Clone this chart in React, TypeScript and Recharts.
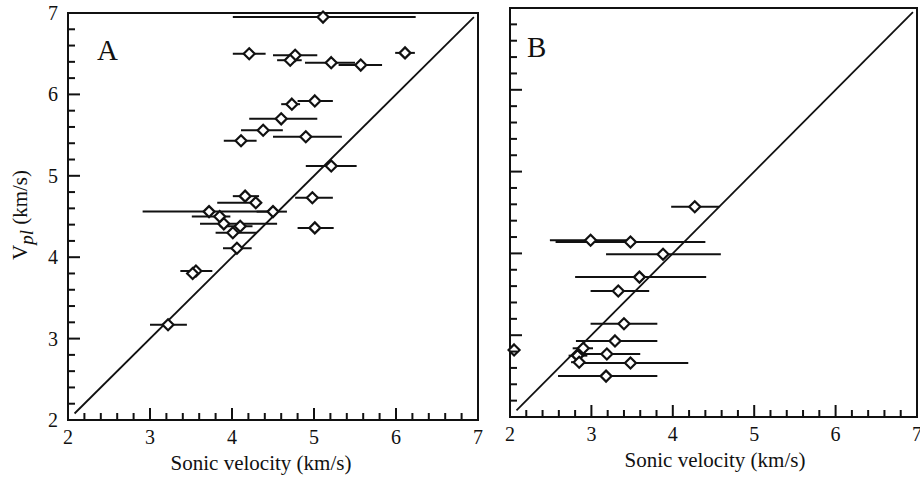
import { ScatterChart, Scatter, XAxis, YAxis, ErrorBar, ReferenceArea, ReferenceLine } from 'recharts'

const FONT = "'Liberation Serif', 'Times New Roman', serif"
const INK = '#111'

// shared axis ticks (major every 1, minor every 0.2)
const TICKS = [
  2, 2.2, 2.4, 2.6, 2.8, 3, 3.2, 3.4, 3.6, 3.8, 4, 4.2, 4.4, 4.6, 4.8,
  5, 5.2, 5.4, 5.6, 5.8, 6, 6.2, 6.4, 6.6, 6.8, 7,
]
const DOMAIN = [2, 7]
const ONE_TO_ONE = [2.08, 6.95]

// panel A: sonic velocity, Vpl, error bar low / high (km/s)
const A_SONIC = [5.11, 4.21, 4.77, 4.71, 5.21, 5.57, 6.11, 5.01, 4.73, 4.6, 4.38, 4.9, 4.11, 5.21, 4.16, 4.29, 4.98, 4.5, 3.72, 3.85, 3.9, 4.1, 4.01, 4.06, 5.01, 3.56, 3.52, 3.22]
const A_VPL = [6.95, 6.5, 6.48, 6.42, 6.39, 6.36, 6.51, 5.92, 5.88, 5.7, 5.56, 5.48, 5.43, 5.12, 4.75, 4.67, 4.73, 4.56, 4.56, 4.5, 4.41, 4.38, 4.3, 4.11, 4.36, 3.83, 3.8, 3.17]
const A_LOW = [4.01, 4.01, 4.5, 4.55, 4.89, 5.3, 5.99, 4.8, 4.6, 4.21, 4.11, 4.5, 3.9, 4.9, 4.01, 3.82, 4.77, 4.3, 2.91, 3.51, 3.61, 3.85, 3.8, 3.89, 4.8, 3.37, 3.45, 3.0]
const A_HIGH = [6.24, 4.41, 5.04, 4.85, 5.5, 5.83, 6.23, 5.23, 4.83, 5.04, 4.62, 5.34, 4.3, 5.52, 4.33, 4.34, 5.23, 4.67, 4.55, 3.98, 4.55, 4.25, 4.3, 4.24, 5.24, 3.76, 3.6, 3.45]

// panel B
const B_SONIC = [4.27, 2.99, 3.48, 3.88, 3.59, 3.33, 3.4, 3.29, 2.9, 2.05, 3.19, 2.83, 2.85, 3.48, 3.18]
const B_VPL = [4.57, 4.16, 4.14, 3.99, 3.71, 3.54, 3.14, 2.93, 2.84, 2.82, 2.77, 2.75, 2.67, 2.66, 2.5]
const B_LOW = [3.98, 2.49, 2.56, 3.18, 2.8, 2.99, 2.99, 2.81, 2.77, 2.05, 2.82, 2.72, 2.75, 2.82, 2.59]
const B_HIGH = [4.57, 3.45, 4.4, 4.59, 4.41, 3.71, 3.81, 3.81, 3.02, 2.05, 3.6, 2.95, 2.9, 4.19, 3.81]

function build(xs: number[], ys: number[], lo: number[], hi: number[]) {
  return xs.map((x, i) => ({ x, y: ys[i], err: [x - lo[i], hi[i] - x] }))
}

const isMajor = (v: number) => Math.abs(v - Math.round(v)) < 1e-6

function XTick(props: any) {
  const { x, y, payload } = props
  const major = isMajor(payload.value)
  return (
    <g>
      <line x1={x} x2={x} y1={y} y2={y - (major ? 12 : 7)} stroke={INK} strokeWidth={2} />
      {major && (
        <text x={x} y={y + 24} textAnchor="middle" fontSize={20} fontFamily={FONT} fill={INK}>
          {payload.value}
        </text>
      )}
    </g>
  )
}

function YTick(props: any) {
  const { x, y, payload, showLabel } = props
  const major = isMajor(payload.value)
  return (
    <g>
      <line x1={x} x2={x + (major ? 12 : 7)} y1={y} y2={y} stroke={INK} strokeWidth={2} />
      {major && showLabel && (
        <text x={x - 10} y={y} dy="0.35em" textAnchor="end" fontSize={20} fontFamily={FONT} fill={INK}>
          {payload.value}
        </text>
      )}
    </g>
  )
}

function Diamond(props: any) {
  const { cx, cy } = props
  if (cx == null || cy == null) return null
  const r = 5.5
  return (
    <polygon
      points={`${cx},${cy - r} ${cx + r},${cy} ${cx},${cy + r} ${cx - r},${cy}`}
      fill="#fff"
      stroke={INK}
      strokeWidth={2.2}
    />
  )
}

function Panel({ data, width, height, margin, showYLabels }: any) {
  return (
    <ScatterChart width={width} height={height} margin={margin}>
      <XAxis
        type="number"
        dataKey="x"
        domain={DOMAIN}
        ticks={TICKS}
        interval={0}
        height={30}
        tickSize={0}
        tickMargin={0}
        axisLine={false}
        tickLine={false}
        tick={(p: any) => <XTick {...p} />}
      />
      <YAxis
        type="number"
        dataKey="y"
        domain={DOMAIN}
        ticks={TICKS}
        interval={0}
        width={30}
        tickSize={0}
        tickMargin={0}
        axisLine={false}
        tickLine={false}
        tick={(p: any) => <YTick {...p} showLabel={showYLabels} />}
      />
      <ReferenceArea x1={2} x2={7} y1={2} y2={7} fill="none" stroke={INK} strokeWidth={2} />
      <ReferenceLine
        segment={[
          { x: ONE_TO_ONE[0], y: ONE_TO_ONE[0] },
          { x: ONE_TO_ONE[1], y: ONE_TO_ONE[1] },
        ]}
        stroke={INK}
        strokeWidth={1.8}
      />
      <Scatter data={data} shape={<Diamond />} isAnimationActive={false}>
        <ErrorBar dataKey="err" direction="x" width={0} stroke={INK} strokeWidth={2} isAnimationActive={false} />
      </Scatter>
    </ScatterChart>
  )
}

export default function App() {
  const dataA = build(A_SONIC, A_VPL, A_LOW, A_HIGH)
  const dataB = build(B_SONIC, B_VPL, B_LOW, B_HIGH)
  return (
    <div style={{ position: 'absolute', left: 0, top: 0, width: 920, height: 477, background: '#fff', overflow: 'hidden' }}>
      <div style={{ position: 'absolute', left: 0, top: 0 }}>
        <Panel data={dataA} width={490} height={477} margin={{ top: 13, right: 12, bottom: 27, left: 38 }} showYLabels />
      </div>
      <div style={{ position: 'absolute', left: 480, top: 0 }}>
        <Panel data={dataB} width={440} height={477} margin={{ top: 8, right: 3, bottom: 30, left: 0 }} showYLabels={false} />
      </div>
      <svg width={920} height={477} style={{ position: 'absolute', left: 0, top: 0, pointerEvents: 'none' }}>
        <g fontFamily={FONT} fill={INK}>
          <text x={97} y={60} fontSize={29}>A</text>
          <text x={527} y={57} fontSize={29}>B</text>
          <text x={261} y={470} fontSize={21} textAnchor="middle">Sonic velocity (km/s)</text>
          <text x={715} y={467} fontSize={21} textAnchor="middle">Sonic velocity (km/s)</text>
          <text transform="translate(27,215) rotate(-90)" fontSize={21} textAnchor="middle">
            V<tspan fontStyle="italic" fontSize={19} dy={6}>pl</tspan>
            <tspan dy={-6}> (km/s)</tspan>
          </text>
        </g>
      </svg>
    </div>
  )
}
